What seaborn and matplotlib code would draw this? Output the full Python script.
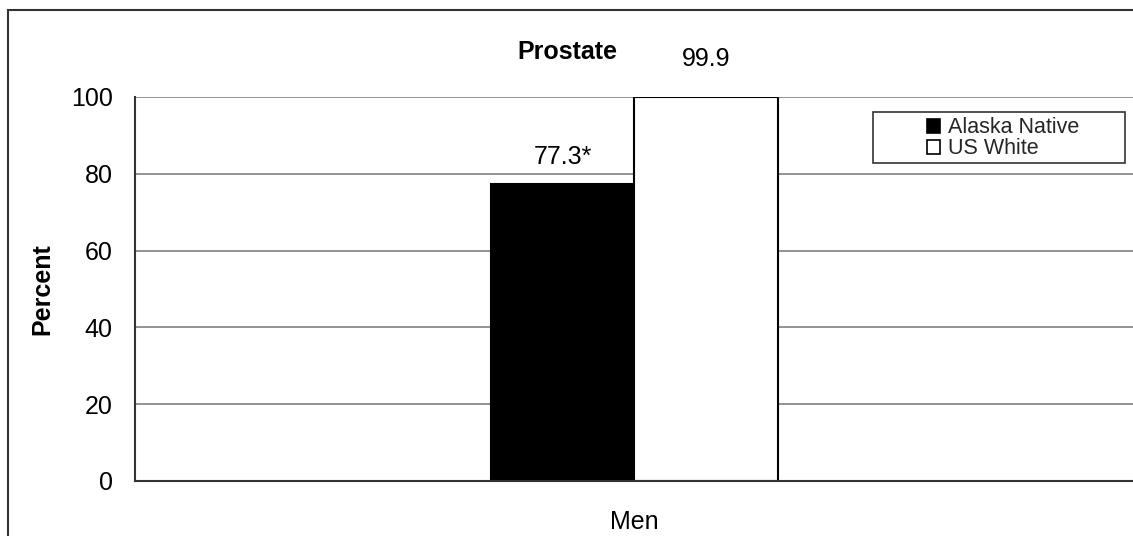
import pandas as pd
import matplotlib.pyplot as plt
from matplotlib.patches import Patch, Rectangle
import seaborn as sns

# data
sexes = ["Men"]
groups = ["Alaska Native", "US White"]
percents = [77.3, 99.9]
value_labels = ["77.3*", "99.9"]
y_ticks = [0, 20, 40, 60, 80, 100]
title = "Prostate"

W, H = 1133, 536

sns.set_theme(style="white")
plt.rcParams["font.family"] = ["Liberation Sans", "DejaVu Sans"]

df = pd.DataFrame({"sex": sexes * len(groups), "group": groups, "pct": percents})

fig = plt.figure(figsize=(W / 100, H / 100), dpi=100)
ax = fig.add_axes([135 / W, 1 - 481 / H, 999 / W, 384 / H])

sns.barplot(
    data=df, x="sex", y="pct", hue="group", hue_order=groups,
    palette=["black", "white"], width=0.287, edgecolor="black",
    linewidth=1.5, saturation=1, legend=False, ax=ax,
)

ax.set_ylim(0, 100)
ax.set_xlim(-0.5, 0.5)
ax.set_yticks(y_ticks)
ax.set_axisbelow(True)
ax.yaxis.grid(True, color="#808080", linewidth=1.2)
ax.xaxis.grid(False)

for side in ["top", "right"]:
    ax.spines[side].set_visible(False)
for side in ["left", "bottom"]:
    ax.spines[side].set_color("#333333")
    ax.spines[side].set_linewidth(1.5)

ax.tick_params(axis="y", length=0, pad=16, labelsize=18, labelcolor="black")
ax.tick_params(axis="x", length=0, pad=21, labelsize=18, labelcolor="black")
ax.set_xlabel("")
ax.set_ylabel("Percent", fontsize=18, fontweight="bold", color="black")
ax.yaxis.set_label_coords(-0.081, 0.5)

# value labels above the bars
pads = [11, 19]
for cont, lab, pad in zip(ax.containers, value_labels, pads):
    ax.bar_label(cont, labels=[lab], padding=pad, fontsize=18, color="black")

fig.text(567 / W, 1 - 52 / H, title, ha="center", va="center",
         fontsize=18, fontweight="bold", color="black")

# legend with its own box
handles = [
    Patch(facecolor="black", edgecolor="black", linewidth=1.2),
    Patch(facecolor="white", edgecolor="black", linewidth=1.2),
]
fig.legend(handles, groups, loc="center",
           bbox_to_anchor=(1003 / W, 1 - 138.5 / H),
           frameon=False, fontsize=15.5, handlelength=0.6, handleheight=0.6,
           handletextpad=0.4, labelspacing=0.0, borderpad=0)
fig.add_artist(Rectangle((873 / W, 1 - 163 / H), 252 / W, 51 / H,
                         transform=fig.transFigure, fill=False,
                         edgecolor="#333333", linewidth=1.2))

# outer chart border (right and bottom run off the image)
fig.add_artist(Rectangle((8 / W, -0.1), 1.2, 1.1 - 10.5 / H,
                         transform=fig.transFigure, fill=False,
                         edgecolor="#333333", linewidth=1.5, clip_on=False))

fig.savefig("out.png", dpi=100, facecolor="white")
